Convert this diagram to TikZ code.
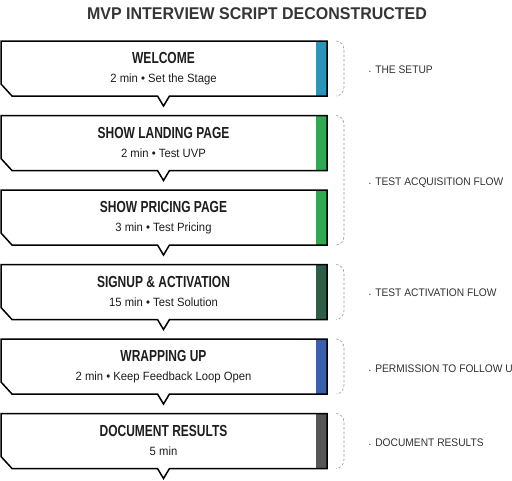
\documentclass[tikz,border=0pt]{standalone}
\usepackage{fontspec}
\setmainfont{Liberation Sans}
\newfontfamily\titlefont[FakeStretch=0.94]{Liberation Sans}
\newfontfamily\headfont[FakeStretch=0.75]{Liberation Sans}
\newfontfamily\subfont[FakeStretch=0.94]{Liberation Sans}
\newfontfamily\labfont[FakeStretch=0.93]{Liberation Sans}
\definecolor{cTeal}{HTML}{2A95B8}
\definecolor{cGreen}{HTML}{2FAA52}
\definecolor{cDark}{HTML}{2F5E47}
\definecolor{cBlue}{HTML}{3A5FAD}
\definecolor{cGray}{HTML}{565656}
\definecolor{cText}{HTML}{1E1E1E}
\definecolor{cLab}{HTML}{333333}
\begin{document}
\begin{tikzpicture}[x=1pt,y=-1pt,
  boxline/.style={line width=1.5pt,line join=miter},
  headtxt/.style={font=\headfont\bfseries\fontsize{16}{18}\selectfont,text=cText,inner sep=0pt,anchor=base},
  subtxt/.style={font=\subfont\fontsize{12}{14}\selectfont,text=cText,inner sep=0pt,anchor=base},
  labtxt/.style={font=\labfont\fontsize{11}{13}\selectfont,text=cLab,inner sep=0pt,anchor=base west},
  bracestyle/.style={draw=gray!80,line width=0.6pt,dash pattern=on 2.5pt off 2pt}]
\useasboundingbox (0,0) rectangle (512,480);
\fill[white] (0,0) rectangle (512,480);
\node[font=\titlefont\bfseries\fontsize{17}{20}\selectfont,text=cText!90,inner sep=0pt,anchor=base] (title) at (257,19) {MVP INTERVIEW SCRIPT DECONSTRUCTED};
% boxes
\foreach \t/\c/\n in {41/cTeal/b1,115.5/cGreen/b2,190/cGreen/b3,264.5/cDark/b4,339/cBlue/b5,413.5/cGray/b6}{
  \pgfmathsetmacro{\b}{\t+55}
  \fill[white] (1,\t) -- (327,\t) -- (327,\b) -- (169.5,\b) -- (163.5,{\b+10}) -- (157.5,\b) -- (12,\b) -- (1,{\b-12}) -- cycle;
  \fill[\c] (316,\t) rectangle (327,\b);
  \draw[boxline] (1,\t) -- (327,\t) -- (327,\b) -- (169.5,\b) -- (163.5,{\b+10}) -- (157.5,\b) -- (12,\b) -- (1,{\b-12}) -- cycle;
  \coordinate (\n) at (163.5,\t);
}
\node[headtxt] (h1) at ([yshift=-22.5pt]b1) {WELCOME};
\node[subtxt] (s1) at ([yshift=-41.5pt]b1) {2 min \textbullet\ Set the Stage};
\node[headtxt] (h2) at ([yshift=-22.5pt]b2) {SHOW LANDING PAGE};
\node[subtxt] (s2) at ([yshift=-41.5pt]b2) {2 min \textbullet\ Test UVP};
\node[headtxt] (h3) at ([yshift=-22.5pt]b3) {SHOW PRICING PAGE};
\node[subtxt] (s3) at ([yshift=-41.5pt]b3) {3 min \textbullet\ Test Pricing};
\node[headtxt] (h4) at ([yshift=-22.5pt]b4) {SIGNUP \& ACTIVATION};
\node[subtxt] (s4) at ([yshift=-41.5pt]b4) {15 min \textbullet\ Test Solution};
\node[headtxt] (h5) at ([yshift=-22.5pt]b5) {WRAPPING UP};
\node[subtxt] (s5) at ([yshift=-41.5pt]b5) {2 min \textbullet\ Keep Feedback Loop Open};
\node[headtxt] (h6) at ([yshift=-22.5pt]b6) {DOCUMENT RESULTS};
\node[subtxt] (s6) at ([yshift=-41.5pt]b6) {5 min};
% braces
\foreach \t/\b in {41/96,115.5/245,264.5/319.5,339/394,413.5/468.5}{
  \draw[bracestyle] (336,\t) to[out=0,in=90] (344,{\t+9}) -- (344,{\b-9}) to[out=-90,in=0] (336,\b);
}
% labels
\node[labtxt] (l1) at (369,73.5) {{\tiny\textbullet}\hspace{4.5pt}THE SETUP};
\node[labtxt] (l2) at (369,185) {{\tiny\textbullet}\hspace{4.5pt}TEST ACQUISITION FLOW};
\node[labtxt] (l3) at (369,296.5) {{\tiny\textbullet}\hspace{4.5pt}TEST ACTIVATION FLOW};
\node[labtxt] (l4) at (369,372) {{\tiny\textbullet}\hspace{4.5pt}PERMISSION TO FOLLOW UP};
\node[labtxt] (l5) at (369,446) {{\tiny\textbullet}\hspace{4.5pt}DOCUMENT RESULTS};
\end{tikzpicture}
\end{document}
